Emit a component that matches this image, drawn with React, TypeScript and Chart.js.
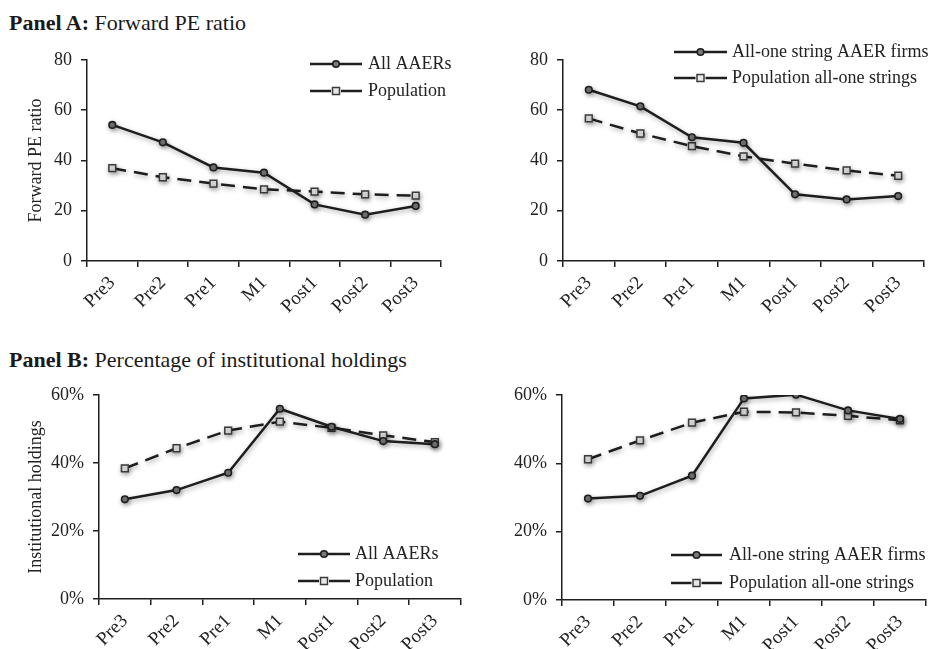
import React, { useEffect, useRef } from 'react';
import { Chart, registerables } from 'chart.js';

Chart.register(...registerables);

// ---------- data ----------
const categories = ['Pre3', 'Pre2', 'Pre1', 'M1', 'Post1', 'Post2', 'Post3'];

const peAllAAERs = [54.1, 47.2, 37.2, 35.1, 22.5, 18.4, 21.9];
const pePopulation = [36.9, 33.3, 30.8, 28.5, 27.6, 26.5, 26.0];
const peAllOneAAER = [68.1, 61.5, 49.2, 47.0, 26.5, 24.5, 25.8];
const pePopAllOne = [56.7, 50.7, 45.7, 41.6, 38.7, 36.0, 33.9];

const instAllAAERs = [29.3, 32.0, 37.1, 55.9, 50.6, 46.4, 45.5];
const instPopulation = [38.4, 44.3, 49.5, 52.1, 50.3, 48.1, 46.1];
const instAllOneAAER = [29.7, 30.5, 36.4, 59.0, 60.1, 55.5, 53.0];
const instPopAllOne = [41.2, 46.7, 51.9, 55.1, 54.9, 53.9, 52.6];

const peTicksMax = 80;
const instTicksMax = 60;
const tickStep = 20;

const legendAll = ['All AAERs', 'Population'];
const legendAllOne = ['All-one string AAER firms', 'Population all-one strings'];

// ---------- styles ----------
const FONT = '"Liberation Serif", "Times New Roman", Times, serif';
const TEXT = '#222222';
const LINE = '#1e1e1e';

type Box = { left: number; top: number; width: number; height: number };
type Area = { left: number; top: number; right: number; bottom: number };
type Spec = {
  box: Box;
  area: Area;
  solid: number[];
  dashed: number[];
  labels: string[];
  yMax: number;
  suffix: string;
  yTitle?: string;
  legend: { x0: number; x1: number; y: number[]; textX: number };
};

const specs: Spec[] = [
  {
    box: { left: 0, top: 40, width: 467, height: 300 },
    area: { left: 87, top: 55, right: 441, bottom: 261 },
    solid: peAllAAERs,
    dashed: pePopulation,
    labels: legendAll,
    yMax: peTicksMax,
    suffix: '',
    yTitle: 'Forward PE ratio',
    legend: { x0: 310, x1: 362, y: [64, 91], textX: 368 },
  },
  {
    box: { left: 467, top: 40, width: 467, height: 300 },
    area: { left: 563, top: 55, right: 924, bottom: 261 },
    solid: peAllOneAAER,
    dashed: pePopAllOne,
    labels: legendAllOne,
    yMax: peTicksMax,
    suffix: '',
    legend: { x0: 674, x1: 727, y: [52, 78], textX: 732 },
  },
  {
    box: { left: 0, top: 375, width: 467, height: 274 },
    area: { left: 99, top: 393, right: 461, bottom: 599 },
    solid: instAllAAERs,
    dashed: instPopulation,
    labels: legendAll,
    yMax: instTicksMax,
    suffix: '%',
    yTitle: 'Institutional holdings',
    legend: { x0: 298, x1: 350, y: [554, 581], textX: 355 },
  },
  {
    box: { left: 467, top: 375, width: 467, height: 274 },
    area: { left: 562, top: 395, right: 926, bottom: 600 },
    solid: instAllOneAAER,
    dashed: instPopAllOne,
    labels: legendAllOne,
    yMax: instTicksMax,
    suffix: '%',
    legend: { x0: 671, x1: 722, y: [555, 583], textX: 729 },
  },
];

const CIRCLE_FILL = '#7a7a7a';
const CIRCLE_BORDER = '#1e1e1e';
const SQUARE_FILL = '#e8e8e8';
const SQUARE_BORDER = '#3a3a3a';

function ChartPanel({ spec }: { spec: Spec }) {
  const ref = useRef<HTMLCanvasElement>(null);

  useEffect(() => {
    const canvas = ref.current;
    if (!canvas) return;
    const { box, area } = spec;

    const shadowPlugin = {
      id: 'lineShadow',
      beforeDatasetsDraw(chart: any) {
        const ctx = chart.ctx;
        ctx.save();
        ctx.shadowColor = 'rgba(0,0,0,0.35)';
        ctx.shadowBlur = 5;
        ctx.shadowOffsetX = 1;
        ctx.shadowOffsetY = 2;
      },
      afterDatasetsDraw(chart: any) {
        chart.ctx.restore();
      },
    };

    const legendPlugin = {
      id: 'insideLegend',
      afterDraw(chart: any) {
        const ctx = chart.ctx as CanvasRenderingContext2D;
        const lg = spec.legend;
        const x0 = lg.x0 - box.left;
        const x1 = lg.x1 - box.left;
        const cx = (x0 + x1) / 2;
        ctx.save();
        ctx.strokeStyle = LINE;
        ctx.lineWidth = 2.5;
        ctx.setLineDash([]);
        // solid row
        let y = lg.y[0] - box.top;
        ctx.beginPath();
        ctx.moveTo(x0, y);
        ctx.lineTo(x1, y);
        ctx.stroke();
        ctx.beginPath();
        ctx.arc(cx, y, 3.3, 0, Math.PI * 2);
        ctx.fillStyle = CIRCLE_FILL;
        ctx.fill();
        ctx.lineWidth = 1.6;
        ctx.strokeStyle = CIRCLE_BORDER;
        ctx.stroke();
        // dashed row
        y = lg.y[1] - box.top;
        ctx.lineWidth = 2.5;
        ctx.strokeStyle = LINE;
        ctx.beginPath();
        ctx.moveTo(x0, y);
        ctx.lineTo(cx - 5, y);
        ctx.moveTo(cx + 5, y);
        ctx.lineTo(x1, y);
        ctx.stroke();
        ctx.fillStyle = SQUARE_FILL;
        ctx.fillRect(cx - 3.5, y - 3.5, 7, 7);
        ctx.lineWidth = 1.5;
        ctx.strokeStyle = SQUARE_BORDER;
        ctx.strokeRect(cx - 3.5, y - 3.5, 7, 7);
        // texts
        ctx.fillStyle = TEXT;
        ctx.font = `18px ${FONT}`;
        ctx.textAlign = 'left';
        ctx.textBaseline = 'middle';
        ctx.fillText(spec.labels[0], lg.textX - box.left, lg.y[0] - box.top);
        ctx.fillText(spec.labels[1], lg.textX - box.left, lg.y[1] - box.top);
        ctx.restore();
      },
    };

    const chart = new Chart(canvas, {
      type: 'line',
      data: {
        labels: categories,
        datasets: [
          {
            label: spec.labels[0],
            data: spec.solid,
            borderColor: LINE,
            borderWidth: 2.5,
            tension: 0,
            fill: false,
            pointStyle: 'circle',
            pointRadius: 3.3,
            pointBackgroundColor: CIRCLE_FILL,
            pointBorderColor: CIRCLE_BORDER,
            pointBorderWidth: 1.6,
          },
          {
            label: spec.labels[1],
            data: spec.dashed,
            borderColor: LINE,
            borderWidth: 2.5,
            borderDash: [14, 8],
            tension: 0,
            fill: false,
            pointStyle: 'rect',
            pointRadius: 4.8,
            pointBackgroundColor: SQUARE_FILL,
            pointBorderColor: SQUARE_BORDER,
            pointBorderWidth: 1.5,
          },
        ],
      },
      options: {
        animation: false,
        responsive: false,
        events: [],
        layout: {
          padding: {
            top: area.top - box.top,
            right: box.left + box.width - area.right,
            left: 0,
            bottom: 0,
          },
        },
        plugins: {
          legend: { display: false },
          tooltip: { enabled: false },
        },
        scales: {
          x: {
            type: 'category',
            offset: true,
            grid: {
              offset: true,
              drawOnChartArea: false,
              drawTicks: true,
              tickLength: 6,
              color: LINE,
              lineWidth: 1.5,
            },
            border: { display: true, color: LINE, width: 1.5 },
            ticks: {
              minRotation: 45,
              maxRotation: 45,
              autoSkip: false,
              padding: 5,
              color: TEXT,
              font: { family: FONT, size: 19 },
            },
            afterFit: (s: any) => {
              s.height = box.top + box.height - area.bottom;
            },
          },
          y: {
            min: 0,
            max: spec.yMax,
            grid: {
              drawOnChartArea: false,
              drawTicks: true,
              tickLength: 6,
              color: LINE,
              lineWidth: 1.5,
            },
            border: { display: true, color: LINE, width: 1.5 },
            ticks: {
              stepSize: tickStep,
              padding: 9,
              color: TEXT,
              font: { family: FONT, size: 18 },
              callback: (v: any) => `${v}${spec.suffix}`,
            },
            title: {
              display: !!spec.yTitle,
              text: spec.yTitle || '',
              color: TEXT,
              font: { family: FONT, size: 18 },
              padding: { top: 25, bottom: 0 },
            },
            afterFit: (s: any) => {
              s.width = area.left - box.left;
            },
          },
        },
      },
      plugins: [shadowPlugin, legendPlugin],
    } as any);

    return () => chart.destroy();
  }, [spec]);

  return (
    <canvas
      ref={ref}
      width={spec.box.width}
      height={spec.box.height}
      style={{
        position: 'absolute',
        left: spec.box.left,
        top: spec.box.top,
        width: spec.box.width,
        height: spec.box.height,
      }}
    />
  );
}

const titleStyle: React.CSSProperties = {
  position: 'absolute',
  left: 9,
  fontFamily: FONT,
  fontSize: 22,
  lineHeight: '24px',
  color: '#1a1a1a',
  whiteSpace: 'nowrap',
};

export default function App() {
  return (
    <div
      style={{
        position: 'absolute',
        left: 0,
        top: 0,
        width: 934,
        height: 649,
        background: '#ffffff',
        overflow: 'hidden',
      }}
    >
      <div style={{ ...titleStyle, top: 11 }}>
        <b>Panel A:</b> Forward PE ratio
      </div>
      <div style={{ ...titleStyle, top: 348 }}>
        <b>Panel B:</b> Percentage of institutional holdings
      </div>
      {specs.map((s, i) => (
        <ChartPanel key={i} spec={s} />
      ))}
    </div>
  );
}
